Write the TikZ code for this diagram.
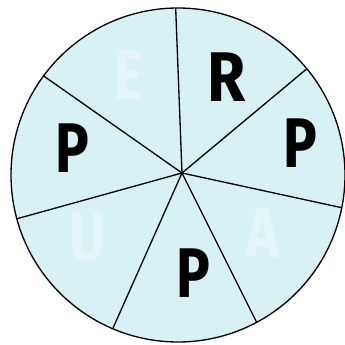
\documentclass[tikz,border=0pt]{standalone}
\usepackage{fontspec}
\setsansfont{Fira Sans}
\usepackage{tikz}
\usetikzlibrary{calc}
\definecolor{wheelblue}{RGB}{216, 241, 245}

\begin{document}
\begin{tikzpicture}[x=0.02cm,y=0.02cm,line width=0.75pt,
  letter/.style={font=\sffamily\bfseries\fontsize{40}{40}\selectfont,inner sep=0pt,xscale=0.8},
  ghost/.style={letter,text=white,text opacity=0.3}]
\useasboundingbox (0,0) rectangle (345,345);
\coordinate (c) at (178,170);
\coordinate (hub) at (182,172);
\fill[wheelblue] (c) circle (167);
% spokes
\coordinate (rA) at ($(c)+(90.8:167)$);
\coordinate (rB) at ($(c)+(39.5:167)$);
\coordinate (rC) at ($(c)+(-11.3:167)$);
\coordinate (rD) at ($(c)+(-61.9:167)$);
\coordinate (rE) at ($(c)+(-113:167)$);
\coordinate (rF) at ($(c)+(195.2:167)$);
\coordinate (rG) at ($(c)+(143.6:167)$);
\draw (hub) -- (rA);
\draw (hub) -- (rB);
\draw (hub) -- (rC);
\draw (hub) -- (rD);
\draw (hub) -- (rE);
\draw (hub) -- (rF);
\draw (hub) -- (rG);
\draw (c) circle (167);
% letters
\node[letter,xscale=1.1] (lR) at (227,268) {R};
\node[letter] (lP1) at (300,202) {P};
\node[letter] (lP2) at (193,72) {P};
\node[letter] (lP3) at (72,197) {P};
\node[ghost] (lE) at (128,270) {E};
\node[ghost] (lU) at (88,108) {U};
\node[ghost] (lA) at (263,112) {A};
\end{tikzpicture}
\end{document}
